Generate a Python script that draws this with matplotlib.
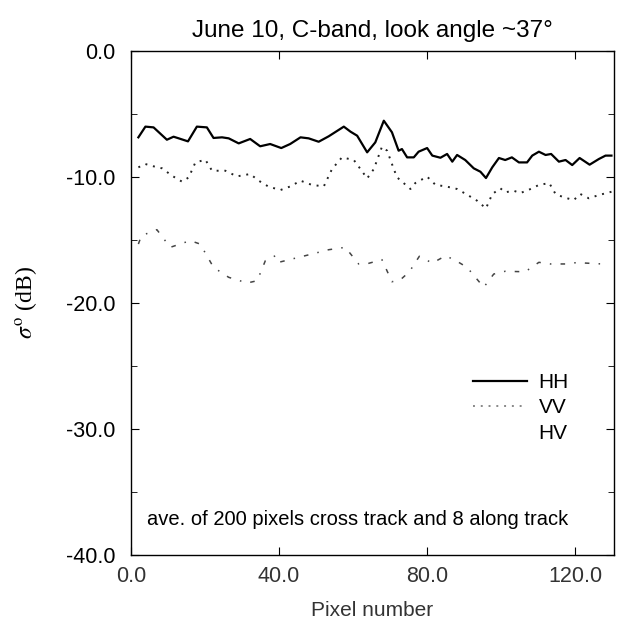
import matplotlib
matplotlib.use("Agg")
from matplotlib import pyplot as plt

plt.rcParams['font.family'] = ['Liberation Sans', 'DejaVu Sans']
plt.rcParams['axes.unicode_minus'] = False

# HH (solid)
hh_x = [2.0, 3.9, 6.1, 9.7, 11.5, 12.9, 15.4, 17.8, 20.5, 22.3, 24.6, 26.4, 29.1, 32.2,
        34.9, 37.6, 40.6, 43.0, 45.8, 48.0, 50.7, 53.4, 57.5, 59.3, 61.1, 63.8, 66.0,
        68.3, 70.5, 72.3, 73.2, 74.6, 76.4, 77.7, 80.0, 81.4, 83.6, 85.4, 86.8, 88.1,
        90.3, 92.6, 94.4, 95.9, 97.6, 99.4, 101.1, 102.9, 104.8, 107.0, 108.4, 110.2,
        112.0, 113.5, 115.6, 117.4, 119.2, 121.2, 123.9, 126.4, 128.2, 129.8]
hh_y = [-6.85, -6.0, -6.06, -7.04, -6.8, -6.93, -7.17, -6.0, -6.06, -6.9, -6.85, -6.93,
        -7.33, -6.98, -7.56, -7.38, -7.7, -7.38, -6.85, -6.93, -7.2, -6.77, -6.0, -6.4,
        -6.72, -8.04, -7.25, -5.53, -6.45, -7.91, -7.78, -8.44, -8.44, -7.99, -7.7,
        -8.3, -8.47, -8.17, -8.78, -8.25, -8.65, -9.31, -9.58, -10.08, -9.23, -8.49,
        -8.65, -8.44, -8.84, -8.84, -8.3, -7.99, -8.25, -8.17, -8.78, -8.65, -9.05,
        -8.49, -9.02, -8.57, -8.3, -8.3]

# VV (dotted)
vv_x = [2.0, 3.9, 6.1, 8.4, 11.1, 13.8, 15.6, 17.4, 20.1, 21.9, 25.5, 28.6, 32.2, 34.5,
        37.2, 40.4, 43.1, 45.8, 48.9, 52.1, 54.3, 57.0, 60.2, 62.0, 63.8, 65.6, 67.8,
        69.2, 71.0, 71.9, 75.5, 76.8, 80.0, 82.3, 85.0, 88.1, 90.8, 93.5, 95.9, 97.6,
        99.8, 101.1, 103.4, 105.2, 107.5, 110.2, 113.0, 114.7, 116.9, 119.6, 121.4,
        123.7, 126.4, 129.8]
vv_y = [-9.23, -8.97, -9.15, -9.31, -9.9, -10.37, -10.03, -8.84, -8.63, -9.5, -9.5,
        -9.95, -9.76, -10.29, -10.77, -11.03, -10.74, -10.29, -10.63, -10.74, -9.37,
        -8.44, -8.65, -9.37, -10.11, -9.37, -7.6, -7.91, -9.37, -10.03, -10.95, -10.48,
        -9.97, -10.63, -10.74, -10.95, -11.4, -11.88, -12.49, -11.35, -10.9, -11.21,
        -11.09, -11.27, -11.01, -10.63, -10.48, -11.35, -11.61, -11.83, -11.35, -11.69,
        -11.43, -11.17]

# HV (dash-dot)
hv_x = [2.0, 2.8, 7.0, 10.6, 16.0, 18.7, 22.3, 26.4, 31.4, 34.1, 36.3, 39.0, 39.9, 48.9,
        53.4, 57.9, 61.5, 64.2, 67.8, 70.5, 72.8, 75.2, 77.9, 81.4, 85.0, 87.8, 90.8,
        95.3, 98.0, 101.1, 106.5, 110.2, 113.3, 117.4, 121.0, 122.8, 127.3]
hv_y = [-15.32, -14.66, -14.18, -15.58, -15.05, -15.32, -17.17, -17.96, -18.41, -18.23,
        -16.64, -16.25, -16.77, -16.11, -15.77, -15.58, -16.9, -16.85, -16.56, -18.31,
        -18.15, -17.52, -16.29, -16.83, -16.25, -16.64, -17.17, -18.75, -17.7, -17.48,
        -17.52, -16.77, -16.9, -16.9, -16.77, -16.83, -16.9]

fig = plt.figure(figsize=(6.19, 6.2), dpi=100)
ax = fig.add_axes([0.2116, 0.1048, 0.7804, 0.8129])

ax.plot(hh_x, hh_y, color="black", lw=1.6, label="HH")
ax.plot(vv_x, vv_y, color="#222222", lw=1.4, ls=(0, (1, 3)), label="VV")
ax.plot(hv_x, hv_y, color="#444444", lw=1.1, ls=(0, (3, 6, 1, 6)), label="HV")

ax.set_xlim(0, 130.5)
ax.set_ylim(-40, 0)
ax.set_xticks([0, 40, 80, 120])
ax.set_xticklabels(["0.0", "40.0", "80.0", "120.0"], color="#333333")
ax.set_yticks([0, -10, -20, -30, -40])
ax.set_yticklabels(["0.0", "-10.0", "-20.0", "-30.0", "-40.0"])
ax.set_yticks([-5, -15, -25, -35], minor=True)
ax.tick_params(axis="both", which="major", direction="in", length=6, labelsize=15.5)
ax.tick_params(axis="x", top=True, pad=8)
ax.tick_params(axis="y", right=True, pad=11)
ax.tick_params(axis="y", which="minor", direction="in", length=4, right=True)

for s in ax.spines.values():
    s.set_linewidth(1.0)

ax.set_title("June 10, C-band, look angle ~37\u00b0", fontsize=17.5, pad=10)
ax.set_xlabel("Pixel number", fontsize=15, color="#333333", labelpad=10)
ax.set_ylabel(r"$\sigma^{\rm o}$ (dB)", fontsize=17, family="Liberation Serif",
              math_fontfamily="stix")
ax.yaxis.set_label_coords(-0.19, 0.5)

ax.text(4.3, -37.2, "ave. of 200 pixels cross track and 8 along track",
        fontsize=14.5, va="center")

leg = ax.legend(loc="center left", bbox_to_anchor=(0.709, 0.292), frameon=False,
                fontsize=15, handlelength=2.55, handletextpad=0.58,
                labelspacing=0.3, borderpad=0, borderaxespad=0)
leg.get_lines()[1].set_color("#888888")
leg.get_lines()[2].set_visible(False)

plt.savefig("out.png", dpi=100)
